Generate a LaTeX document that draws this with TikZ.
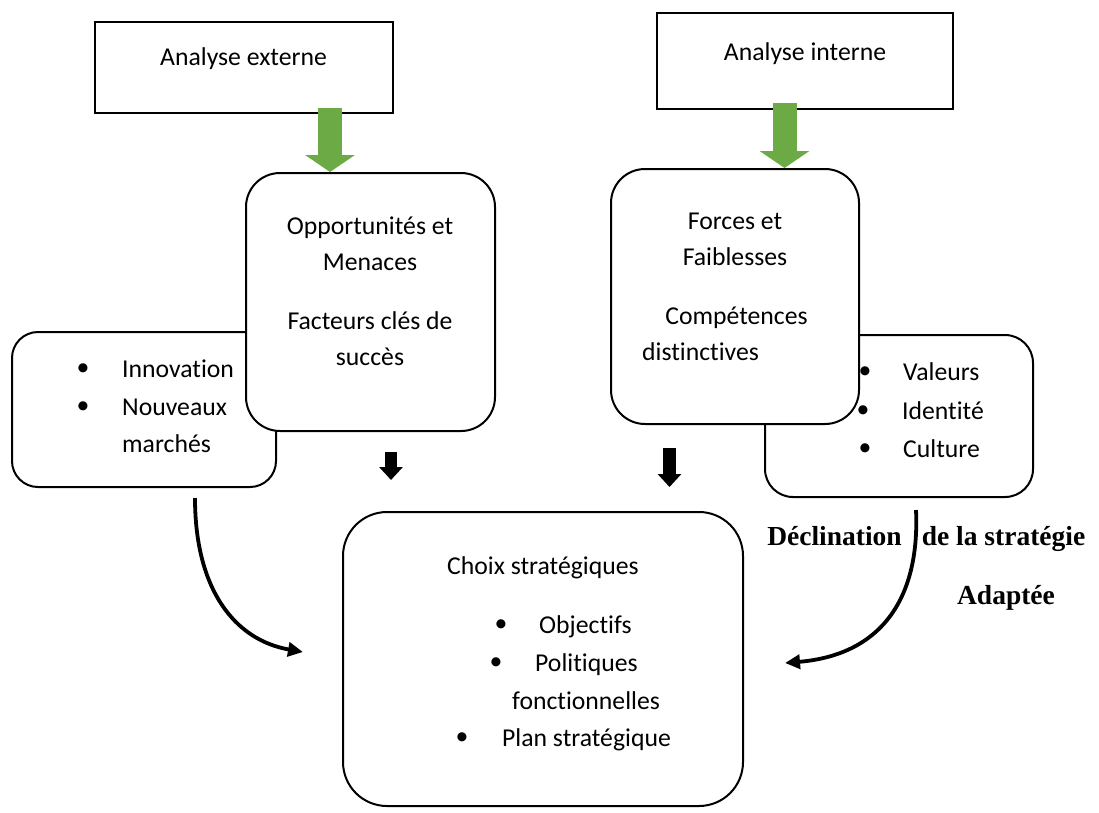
\documentclass[tikz,border=0pt]{standalone}
\usepackage{fontspec}
\setmainfont{Carlito}[Ligatures=NoCommon]
\newfontfamily\serifb{Liberation Serif}
\usetikzlibrary{arrows.meta}
\definecolor{grn}{HTML}{6BAA45}
\tikzset{
  box/.style={draw, line width=2pt, fill=white, inner sep=0pt},
  rbox/.style={box, rounded corners=#1},
  txt/.style={font=\fontsize{25.7}{30}\selectfont, inner sep=0pt, anchor=mid, yshift=-5pt},
  txtl/.style={txt, anchor=mid west},
  btxt/.style={font=\serifb\bfseries\fontsize{27.5}{32}\selectfont, inner sep=0pt, anchor=mid, yshift=-3pt},
  bul/.style={font=\fontsize{25.7}{30}\selectfont, inner sep=0pt, anchor=center},
  greenarr/.style={draw=grn, line width=24pt, -{Triangle[length=17pt,width=49pt]}, grn},
  blackarr/.style={line width=#1, black, -{Triangle[length=13pt,width=23pt]}},
  curvearr/.style={line width=3.8pt, black, -{Triangle[length=15pt,width=14pt]}},
}
\begin{document}
\begin{tikzpicture}[x=1pt,y=-1pt]
\useasboundingbox (0,0) rectangle (1099,812);
% side boxes (behind)
\node[rbox=26pt, minimum width=264pt, minimum height=155pt] (inn) at (144,409.5) {};
\node[rbox=28pt, minimum width=268pt, minimum height=162pt] (val) at (899,416) {};
% main rounded boxes
\node[rbox=34pt, minimum width=249pt, minimum height=258pt] (opp) at (370.5,302) {};
\node[rbox=34pt, minimum width=248pt, minimum height=255pt] (frc) at (735,296.5) {};
% top boxes
\node[box, minimum width=298pt, minimum height=91pt] (ext) at (244,67.5) {};
\node[box, minimum width=296pt, minimum height=96pt] (int) at (805,61) {};
% choix box
\node[rbox=44pt, minimum width=400pt, minimum height=294pt] (cho) at (543,659) {};

% green arrows
\coordinate (g1) at (330,108);
\coordinate (g2) at (784.5,103);
\draw[greenarr] (g1) -- (g1 |- opp.north);
\draw[greenarr] (g2) -- (g2 |- frc.north);

% black arrows
\coordinate (b1s) at (391,452);
\coordinate (b1e) at (391,480);
\coordinate (b2s) at (669.5,448);
\coordinate (b2e) at (669.5,487);
\draw[blackarr=12pt] (b1s) -- (b1e);
\draw[blackarr=13pt] (b2s) -- (b2e);

% curved arrows
\coordinate (c1s) at (195,498);
\coordinate (c1e) at (303,652);
\draw[curvearr] (c1s) .. controls (195,590) and (235,640) .. (c1e);
\coordinate (c2s) at (916,510);
\coordinate (c2e) at (785,663);
\draw[curvearr] (c2s) .. controls (920,600) and (880,655) .. (c2e);

% texts
\node[txt] (tex) at (243.5,58) {Analyse externe};
\node[txt] (tin) at (805,53) {Analyse interne};

\node[txt] (o1) at (370,227) {Opportunités et};
\node[txt] (o2) at (370,263) {Menaces};
\node[txt] (o3) at (370,322) {Facteurs clés de};
\node[txt] (o4) at (370,358) {succès};

\node[txt] (f1) at (735,222) {Forces et};
\node[txt] (f2) at (735,258) {Faiblesses};
\node[txt] (f3) at (736.5,317) {Compétences};
\node[txtl] (f4) at (642,353) {distinctives};

\node[bul] (ib1) at (83,370) {•};
\node[txtl] (i1) at (122,370) {Innovation};
\node[bul] (ib2) at (83,408) {•};
\node[txtl] (i2) at (122,408) {Nouveaux};
\node[txtl] (i3) at (122,445) {marchés};

\node[bul] (vb1) at (865,373) {•};
\node[txtl] (v1) at (903,373) {Valeurs};
\node[bul] (vb2) at (863,412) {•};
\node[txtl] (v2) at (902,412) {Identité};
\node[bul] (vb3) at (865,450) {•};
\node[txtl] (v3) at (903,450) {Culture};

\node[txtl] (ch) at (447,567) {Choix stratégiques};
\node[bul] (cb1) at (501,626) {•};
\node[txtl] (c1) at (539,626) {Objectifs};
\node[bul] (cb2) at (496,664) {•};
\node[txtl] (c2) at (535,664) {Politiques};
\node[txtl] (c3) at (512,702) {fonctionnelles};
\node[bul] (cb3) at (462,739) {•};
\node[txtl] (c4) at (502,739) {Plan stratégique};

\node[btxt] (d1) at (834.5,540) {Déclination};
\node[btxt] (d2) at (1003.5,540) {de la stratégie};
\node[btxt] (d3) at (1006,599) {Adaptée};
\end{tikzpicture}
\end{document}
